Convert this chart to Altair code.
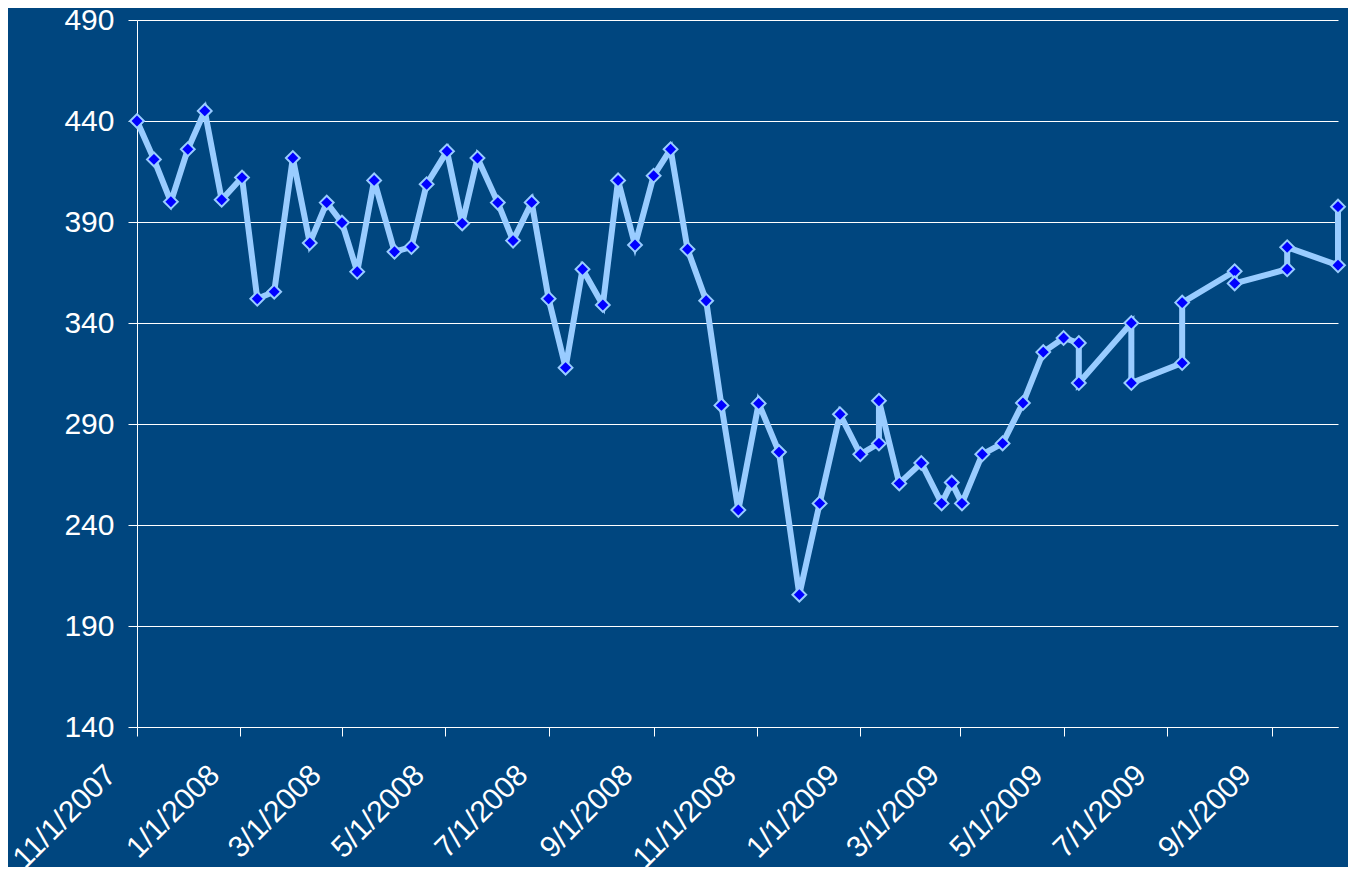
import altair as alt
import pandas as pd

dates = ["2007-11-01", "2007-11-11", "2007-11-21", "2007-12-01", "2007-12-11", "2007-12-21",
         "2008-01-02", "2008-01-11", "2008-01-21", "2008-02-01", "2008-02-11", "2008-02-21",
         "2008-03-01", "2008-03-10", "2008-03-20", "2008-04-01", "2008-04-11", "2008-04-20",
         "2008-05-02", "2008-05-11", "2008-05-20", "2008-06-01", "2008-06-10", "2008-06-21",
         "2008-07-01", "2008-07-11", "2008-07-21", "2008-08-02", "2008-08-11", "2008-08-21",
         "2008-09-01", "2008-09-11", "2008-09-21", "2008-10-02", "2008-10-11", "2008-10-21",
         "2008-11-02", "2008-11-14", "2008-11-26", "2008-12-08", "2008-12-20", "2009-01-01",
         "2009-01-12", "2009-01-12", "2009-01-24", "2009-02-06", "2009-02-18", "2009-02-24",
         "2009-03-02", "2009-03-14", "2009-03-26", "2009-04-07", "2009-04-19", "2009-05-01",
         "2009-05-10", "2009-05-10", "2009-06-10", "2009-06-10", "2009-07-10", "2009-07-10",
         "2009-08-10", "2009-08-10", "2009-09-10", "2009-09-10", "2009-10-10", "2009-10-10"]

values = [440, 421, 400, 426, 445, 401,
          412, 352, 355.5, 421.7, 379.6, 399.6,
          389.7, 365.4, 410.6, 375.3, 377.6, 408.7,
          425, 389.3, 421.7, 399.6, 380.8, 399.7,
          352, 317.9, 366.6, 348.9, 410.6, 378.6,
          412.9, 426, 376.5, 351, 299.2, 247.4,
          300.2, 276.1, 205.5, 250.7, 294.8, 275,
          280.4, 301.5, 260.6, 270.7, 250.7, 261,
          250.7, 275, 280.4, 300.4, 325.6, 332.6,
          330.1, 310.3, 340, 310.3, 320.2, 350.1,
          365.6, 359.6, 366.6, 377.5, 368.6, 397.6]

y_ticks = [140, 190, 240, 290, 340, 390, 440, 490]
x_tick_dates = [(2007, 11), (2008, 1), (2008, 3), (2008, 5), (2008, 7), (2008, 9),
                (2008, 11), (2009, 1), (2009, 3), (2009, 5), (2009, 7), (2009, 9)]

df = pd.DataFrame({"date": dates, "value": values, "idx": list(range(len(values)))})

BG = "#00467F"
LINE = "#99CCFF"
MARK = "#0000FF"
FONT = "Liberation Sans"

x_enc = alt.X(
    "date:T",
    scale=alt.Scale(type="utc",
                    domain=[alt.DateTime(year=2007, month=11, date=1, utc=True),
                            alt.DateTime(year=2009, month=10, date=10, utc=True)]),
    axis=alt.Axis(
        values=[alt.DateTime(year=y, month=m, date=1, utc=True) for y, m in x_tick_dates],
        labelExpr="utcFormat(datum.value, '%-m/%-d/%Y')",
        labelOverlap=False, labelBound=False,
        labelAngle=-45, labelAlign="right", labelBaseline="middle",
        labelPadding=34, labelOffset=-26, grid=False, title=None,
        tickSize=9, labelFontSize=30,
    ),
)
y_enc = alt.Y(
    "value:Q",
    scale=alt.Scale(domain=[140, 490], nice=False, zero=False),
    axis=alt.Axis(values=y_ticks, grid=True, title=None, tickSize=9,
                  labelPadding=14, labelFontSize=30, labelOverlap=False),
)

base = alt.Chart(df).encode(x=x_enc, y=y_enc, order=alt.Order("idx:Q"))

line = base.mark_line(color=LINE, strokeWidth=6, strokeJoin="miter")
pts = base.mark_point(shape="diamond", filled=True, fill=MARK, stroke=LINE,
                      strokeWidth=2, size=190, opacity=1)

chart = (line + pts).properties(
    width=1201, height=707, background=BG,
    padding={"left": 129, "top": 12, "right": 10, "bottom": 140},
    autosize=alt.AutoSizeParams(type="none"),
).configure_view(strokeWidth=0).configure_axis(
    domainColor="white", tickColor="white", gridColor="white",
    labelColor="white", labelFont=FONT, domainWidth=1, gridWidth=1,
)

chart.save("out.html", embed_options={"renderer": "svg", "actions": False})
